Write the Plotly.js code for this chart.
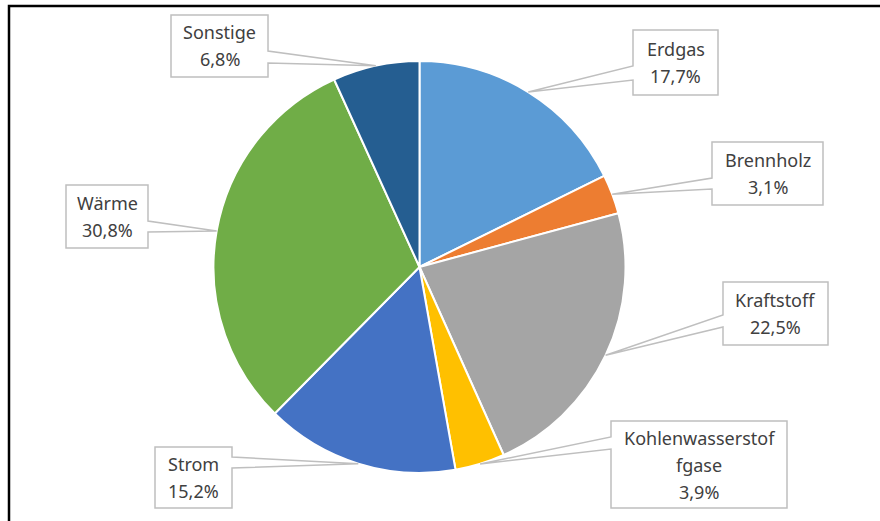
<!DOCTYPE html>
<html>
<head>
<meta charset="utf-8">
<script src="https://cdn.plot.ly/plotly-3.0.1.min.js"></script>
<style>html,body{margin:0;padding:0;background:#fff;}#chart{width:880px;height:521px;}</style>
</head>
<body>
<div id="chart"></div>
<script>
// ---- data ----
const categories = ["Erdgas", "Brennholz", "Kraftstoff", "Kohlenwasserstoffgase", "Strom", "Wärme", "Sonstige"];
const displayLabels = ["Erdgas", "Brennholz", "Kraftstoff", "Kohlenwasserstof<br>fgase", "Strom", "Wärme", "Sonstige"];
const shares = [17.7, 3.1, 22.5, 3.9, 15.2, 30.8, 6.8];
const colors = ["#5B9BD5", "#ED7D31", "#A5A5A5", "#FFC000", "#4472C4", "#70AD47", "#255E91"];

// ---- layout geometry (pixels) ----
const W = 880, H = 521;
const CX = 419.5, CY = 267, R = 206;
// callout boxes: [x0, x1, y0, y1, side, base0, base1]
const boxes = [
  [633, 718, 30, 95, "left", 66, 80],
  [712, 823, 142, 205, "left", 178, 189],
  [723, 828, 282, 345, "left", 315, 327],
  [611, 787, 421, 508, "left", 437, 449],
  [155, 232, 447, 508, "right", 457, 468],
  [66, 148, 185, 248, "right", 221, 232],
  [171, 268, 15, 77, "right", 51, 63]
];

const px = x => x / W;
const py = y => 1 - y / H;

const total = shares.reduce((a, b) => a + b, 0);
const shapes = [];
const annotations = [];
let cum = 0;
shares.forEach((v, i) => {
  const mid = (cum + v / 2) / total * 2 * Math.PI;
  cum += v;
  const tx = CX + R * Math.sin(mid);
  const ty = CY - R * Math.cos(mid);
  const [x0, x1, y0, y1, side, b0, b1] = boxes[i];
  let pts;
  if (side === "right") {
    pts = [[x0, y0], [x1, y0], [x1, b0], [tx, ty], [x1, b1], [x1, y1], [x0, y1]];
  } else {
    pts = [[x0, y0], [x1, y0], [x1, y1], [x0, y1], [x0, b1], [tx, ty], [x0, b0]];
  }
  const path = "M" + pts.map(p => px(p[0]).toFixed(5) + "," + py(p[1]).toFixed(5)).join(" L") + " Z";
  shapes.push({
    type: "path", xref: "paper", yref: "paper", path: path,
    fillcolor: "#FFFFFF", line: {color: "#BFBFBF", width: 1.5}, layer: "above"
  });
  const lines = displayLabels[i].split("<br>").concat([v.toFixed(1).replace(".", ",") + "%"]);
  const step = 27;
  const cy = (y0 + y1) / 2;
  lines.forEach((t, k) => {
    const ly = cy + (k - (lines.length - 1) / 2) * step;
    annotations.push({
      xref: "paper", yref: "paper", x: px((x0 + x1) / 2), y: py(ly),
      xanchor: "center", yanchor: "middle", showarrow: false, text: t,
      font: {family: "Noto Sans, sans-serif", size: 18, color: "#404040"}
    });
  });
});

// outer frame (top and left edges visible)
shapes.push({
  type: "path", xref: "paper", yref: "paper",
  path: "M" + px(9) + "," + py(H + 5) + " L" + px(9) + "," + py(6) + " L" + px(W + 5) + "," + py(6),
  line: {color: "#000000", width: 2.5}, layer: "above"
});

const trace = {
  type: "pie",
  labels: categories,
  values: shares,
  sort: false,
  direction: "clockwise",
  rotation: 0,
  textinfo: "none",
  hoverinfo: "label+percent",
  marker: {colors: colors, line: {color: "#FFFFFF", width: 2}},
  domain: {x: [px(CX - R), px(CX + R)], y: [1 - (CY + R) / H, 1 - (CY - R) / H]},
  showlegend: false
};

const layout = {
  width: W, height: H,
  margin: {l: 0, r: 0, t: 0, b: 0},
  paper_bgcolor: "#FFFFFF",
  showlegend: false,
  shapes: shapes,
  annotations: annotations
};

Plotly.newPlot("chart", [trace], layout, {displayModeBar: false, staticPlot: true});
</script>
</body>
</html>
